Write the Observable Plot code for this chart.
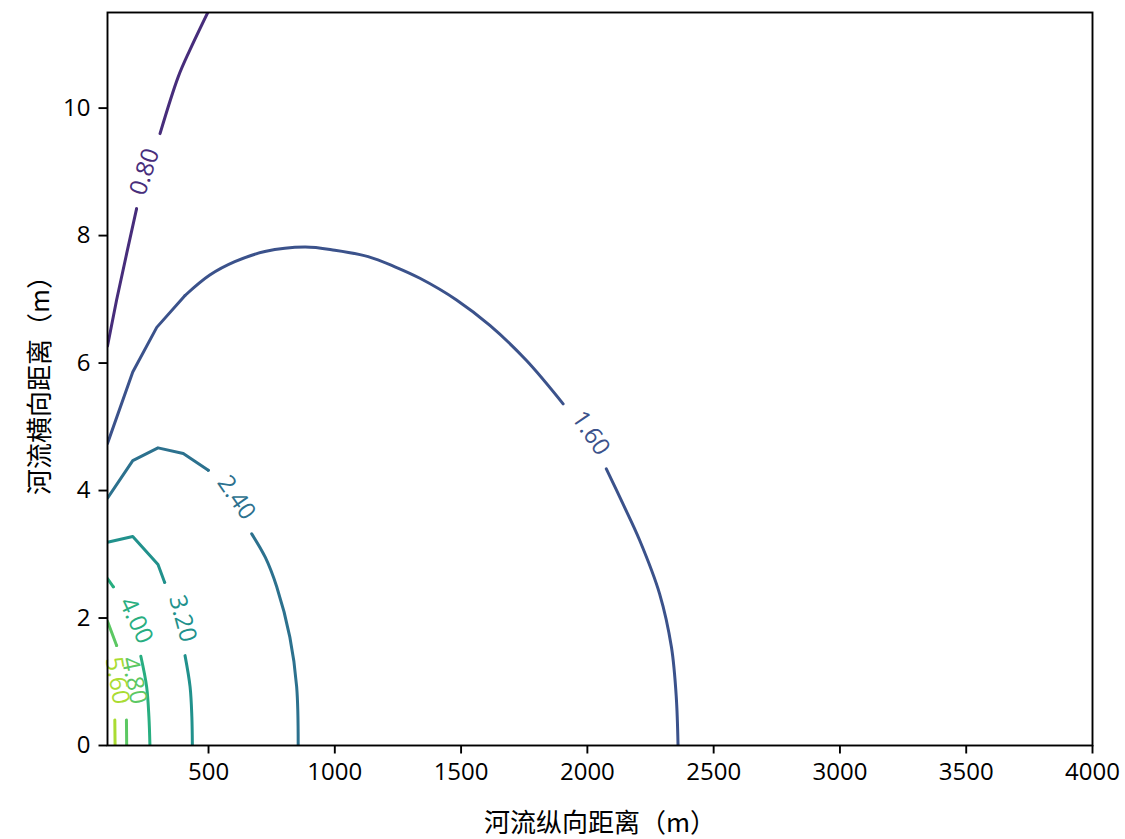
<!DOCTYPE html>
<html><head><meta charset="utf-8">
<script src="https://cdn.jsdelivr.net/npm/d3@7"></script>
<script src="https://cdn.jsdelivr.net/npm/@observablehq/plot@0.6"></script>
<style>html,body{margin:0;padding:0;background:#fff;}</style>
</head><body><div id="chart"></div>
<script>
// contour levels and their inline labels
const levels = [0.8, 1.6, 2.4, 3.2, 4.0, 4.8, 5.6];
const levelLabels = ["0.80", "1.60", "2.40", "3.20", "4.00", "4.80", "5.60"];

// contour traces: [x (m), y (m)]; null = gap left for the inline label
const contour080 = [[100,6.27],[136,6.99],[176,7.72],[215,8.42],null,[308,9.6],[380,10.49],[426,10.91],[497,11.5]];
const contour160 = [[100,4.74],[200,5.86],[295,6.56],[407,7.06],[505,7.38],[604,7.59],[723,7.75],[882,7.82],[1000,7.77],[1132,7.67],[1238,7.51],[1337,7.33],[1482,6.99],[1614,6.59],[1759,6.04],[1904,5.36],null,[2075,4.34],[2141,3.79],[2207,3.22],[2286,2.38],[2333,1.54],[2352,0.76],[2359,0]];
const contour240 = [[100,3.88],[200,4.47],[300,4.67],[400,4.58],[499,4.32],null,[671,3.32],[725,2.95],[770,2.49],[822,1.70],[849,0.92],[855,0]];
const contour320 = [[100,3.19],[200,3.28],[300,2.84],[326,2.56],null,[407,1.41],[427,0.92],[434,0.45],[436,0]];
const contour400 = [[100,2.62],[123,2.49],null,[232,1.40],[255,0.92],[264,0.45],[268,0]];
const contour480 = [[100,1.95],[136,1.57],null,[175,0.40],[176,0]];
const contour560 = [[129,0.40],[130,0]];
const contours = [contour080, contour160, contour240, contour320, contour400, contour480, contour560];

// inline label anchors (data coordinates)
const labelX = [248, 2013, 610, 397, 213, 205, 138];
const labelY = [9.0, 4.90, 3.89, 1.99, 1.96, 1.02, 1.02];

const xTicks = [500, 1000, 1500, 2000, 2500, 3000, 3500, 4000];
const yTicks = [0, 2, 4, 6, 8, 10];
const xTitle = "河流纵向距离（m）";
const yTitle = "河流横向距离（m）";

// build tables: the coarse-grid part near the source is drawn as straight segments,
// the rest of each trace as a smooth curve through the same read points
const linearUntil = [215, 407, 499, 326, 123, 136, 0];
const linearRows = [], smoothRows = [];
contours.forEach((pts, i) => {
  let piece = 0;
  pts.forEach(p => {
    if (p === null) { piece++; return; }
    const row = {x: p[0], y: p[1], level: levels[i], id: i + "-" + piece};
    if (piece === 0 && p[0] <= linearUntil[i]) linearRows.push(row);
    if (piece > 0 || p[0] >= linearUntil[i]) smoothRows.push(row);
  });
});
const labelRotate = [-72, 56, 55, 75, 65, 78, 80];
const labelRows = levels.map((lv, i) => ({x: labelX[i], y: labelY[i], level: lv, text: levelLabels[i], rot: labelRotate[i]}));

const font = "'Open Sans', 'Noto Sans CJK SC', sans-serif";
const chart = Plot.plot({
  width: 1125,
  height: 839,
  marginLeft: 107,
  marginRight: 33,
  marginTop: 12,
  marginBottom: 94,
  style: {fontFamily: font, fontSize: "24px", color: "black", background: "white"},
  x: {domain: [100, 4000]},
  y: {domain: [0, 11.5]},
  color: {type: "linear", domain: [0, 6.4], scheme: "viridis"},
  marks: [
    Plot.line(linearRows, {x: "x", y: "y", z: "id", stroke: "level", strokeWidth: 3, clip: true}),
    Plot.line(smoothRows, {x: "x", y: "y", z: "id", stroke: "level", strokeWidth: 3, curve: "catmull-rom", clip: true}),
    Plot.text(labelRows, {x: "x", y: "y", text: "text", fill: "level", rotate: "rot", fontSize: 24, textAnchor: "middle", lineAnchor: "middle"}),
    Plot.frame({stroke: "black", strokeWidth: 1.9}),
    Plot.axisX({ticks: xTicks, tickFormat: d => String(d), tickSize: 8.5, tickPadding: 8.5, strokeWidth: 1.9, label: null, fontSize: 24}),
    Plot.axisY({ticks: yTicks, tickFormat: d => String(d), tickSize: 8.5, tickPadding: 8.5, strokeWidth: 1.9, label: null, fontSize: 24}),
    Plot.text([xTitle], {text: d => d, frameAnchor: "bottom", dy: 78, lineAnchor: "middle", textAnchor: "middle", fontSize: 26, fontFamily: "'Noto Sans CJK SC', sans-serif"}),
    Plot.text([yTitle], {text: d => d, frameAnchor: "left", dx: -67, rotate: -90, lineAnchor: "middle", textAnchor: "middle", fontSize: 26, fontFamily: "'Noto Sans CJK SC', sans-serif"})
  ]
});
document.getElementById("chart").appendChild(chart);
</script>
</body></html>
